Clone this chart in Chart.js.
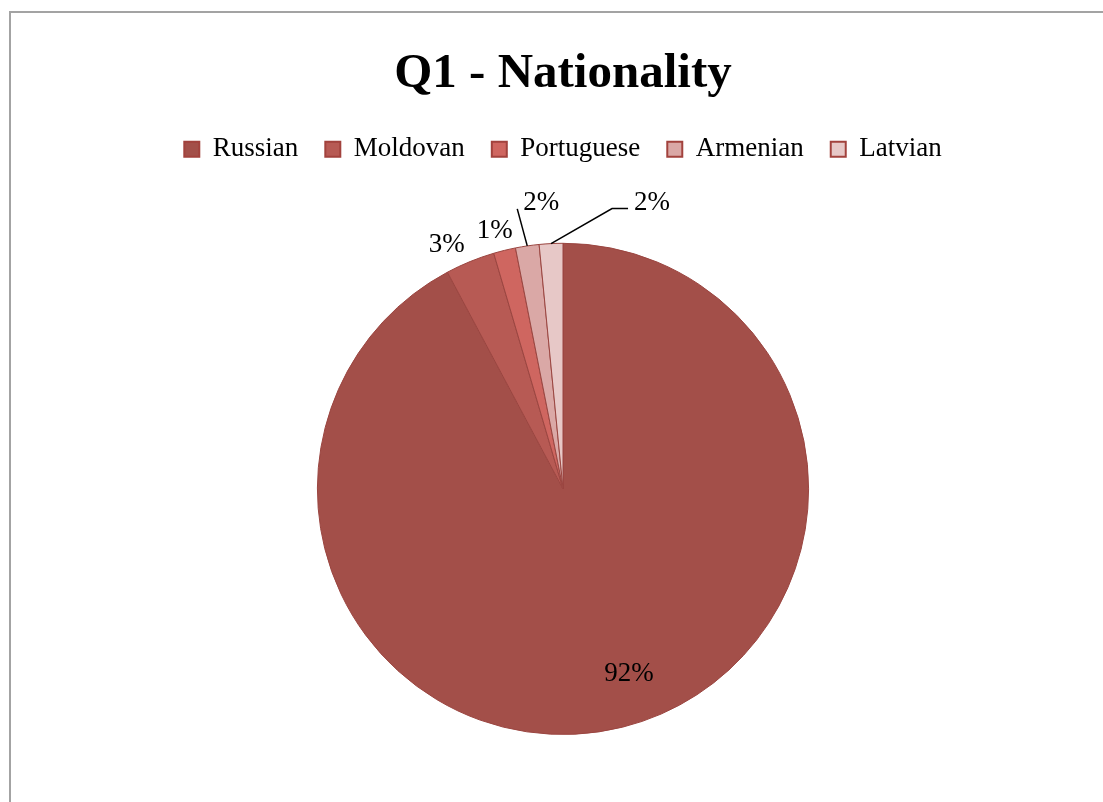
<!DOCTYPE html>
<html>
<head>
<meta charset="utf-8">
<script src="https://cdn.jsdelivr.net/npm/chart.js@4.4.1/dist/chart.umd.min.js"></script>
<style>
  html, body { margin:0; padding:0; background:#fff; overflow:hidden; }
  #frame { position:absolute; left:9px; top:11px; width:1200px; height:900px;
           border-top:2px solid #a3a3a3; border-left:2px solid #a3a3a3; }
  #pie { position:absolute; left:0; top:0; }
</style>
</head>
<body>
<div id="frame"></div>
<canvas id="pie" width="1103" height="802"></canvas>
<script>
// ===== DATA =====
const categories = ["Russian", "Moldovan", "Portuguese", "Armenian", "Latvian"];
const shares = [92.2, 3.25, 1.45, 1.55, 1.55];
const sliceColors = ["#A34F49", "#B75A54", "#CF6660", "#DAA8A6", "#E7C8C7"];

const SERIF = "'Liberation Serif', 'DejaVu Serif', serif";

// where each percent label goes (radius multiples / pixel nudges)
const labelPlaces = [
  { dist:0.79, dx:19, dy:-3 },
  { dist:1.11, dx:-13, dy:8 },
  { dist:1.10, dx:-4, dy:4 },
  { leader:[[-10,-37]], text:[24,-6] },
  { leader:[[61,-35],[77,-35]], text:[24,-6] }
];
const LEGEND_GAP = 70; // empty space between legend and pie

const total = shares.reduce((a,b)=>a+b, 0);
const pctText = shares.map(v => Math.round(v/total*100) + "%");

// ===== labels plugin =====
const pieLabels = {
  id:"pieLabels",
  afterDatasetsDraw(chart){
    const ctx = chart.ctx;
    const meta = chart.getDatasetMeta(0);
    ctx.save();
    ctx.font = "27px " + SERIF;
    ctx.fillStyle = "#000";
    ctx.strokeStyle = "#000";
    ctx.lineWidth = 1.5;
    ctx.textAlign = "center";
    ctx.textBaseline = "middle";
    meta.data.forEach((arc, i) => {
      const p = arc.getProps(["x","y","startAngle","endAngle","outerRadius"], true);
      const mid = (p.startAngle + p.endAngle)/2;
      const cfg = labelPlaces[i];
      if (cfg.leader){
        const sx = p.x + Math.cos(mid)*p.outerRadius;
        const sy = p.y + Math.sin(mid)*p.outerRadius;
        ctx.beginPath();
        ctx.moveTo(sx, sy);
        let ex = sx, ey = sy;
        cfg.leader.forEach(pt => { ex = sx + pt[0]; ey = sy + pt[1]; ctx.lineTo(ex, ey); });
        ctx.stroke();
        ctx.fillText(pctText[i], ex + cfg.text[0], ey + cfg.text[1]);
      } else {
        const lx = p.x + Math.cos(mid)*p.outerRadius*cfg.dist + (cfg.dx||0);
        const ly = p.y + Math.sin(mid)*p.outerRadius*cfg.dist + (cfg.dy||0);
        ctx.fillText(pctText[i], lx, ly);
      }
    });
    ctx.restore();
  }
};

// make the legend box taller so the pie starts lower
const legendGap = {
  id:"legendGap",
  beforeInit(chart){
    const fit = chart.legend.fit;
    chart.legend.fit = function(){ fit.call(this); this.height += LEGEND_GAP; };
  }
};

const baseLabels = Chart.overrides.pie.plugins.legend.labels.generateLabels;

const chart = new Chart(document.getElementById("pie").getContext("2d"), {
  type:"pie",
  data:{
    labels:categories,
    datasets:[{
      data:shares,
      backgroundColor:sliceColors,
      borderColor:"#9A4540",
      borderWidth:1
    }]
  },
  options:{
    responsive:false,
    animation:false,
    devicePixelRatio:1,
    layout:{ padding:{ left:23, right:0, top:0, bottom:67 } },
    plugins:{
      title:{
        display:true,
        text:"Q1 - Nationality",
        color:"#000",
        font:{ family:SERIF, size:49, weight:"bold" },
        padding:{ top:45, bottom:5 }
      },
      legend:{
        position:"top",
        labels:{
          color:"#000",
          font:{ family:SERIF, size:27 },
          boxWidth:15,
          boxHeight:15,
          padding:27,
          generateLabels(chart){
            return baseLabels(chart).map(l => Object.assign(l, { lineWidth:2, strokeStyle:"#A2423D" }));
          }
        }
      },
      tooltip:{ enabled:false }
    }
  },
  plugins:[pieLabels, legendGap]
});
</script>
</body>
</html>
